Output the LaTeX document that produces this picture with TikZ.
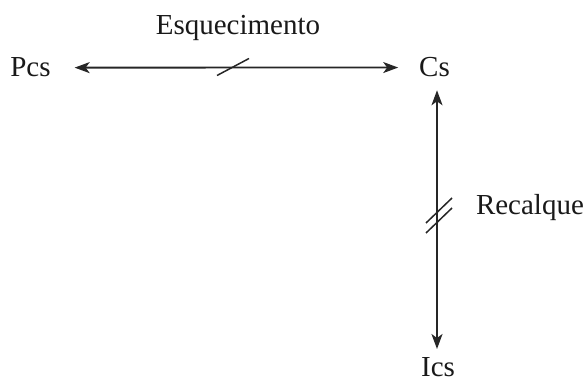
\documentclass[tikz,border=0pt]{standalone}
\usepackage{fontspec}
\setmainfont{Liberation Serif}
\usetikzlibrary{arrows.meta}
\begin{document}
\begin{tikzpicture}[x=1pt,y=1pt,
  lbl/.style={inner sep=0pt, outer sep=0pt, font=\fontsize{29}{35}\selectfont, text=black!90},
  conn/.style={line width=1.8pt, draw=black!85, {Stealth[length=15pt,width=11pt,inset=4pt]}-{Stealth[length=15pt,width=11pt,inset=4pt]}},
  strike/.style={line width=1.5pt, draw=black!85}]
\useasboundingbox (0,0) rectangle (585,383);
\node[lbl, anchor=base] (Pcs) at (30.5,306) {Pcs};
\node[lbl, anchor=base] (Cs) at (434.5,306) {Cs};
\node[lbl, anchor=base] (Ics) at (438,7) {Ics};
\node[lbl, anchor=base] (Esq) at (238,348) {Esquecimento};
\node[lbl, anchor=base west] (Rec) at (476,168) {Recalque};
\draw[conn, shorten <=24pt, shorten >=21pt] (Pcs.east) -- (Cs.west);
\draw[conn, shorten <=13pt, shorten >=8pt] ([xshift=2.5pt]Cs.south) -- ([xshift=2.5pt]Cs.south |- Ics.north);
\coordinate (s1) at (233,316);
\draw[strike] ([shift={(-16,-8.5)}]s1) -- ([shift={(16,8.5)}]s1);
\coordinate (s2) at (439,172.5);
\coordinate (s3) at (439,162.5);
\draw[strike] ([shift={(-13,-12.5)}]s2) -- ([shift={(13,12.5)}]s2);
\draw[strike] ([shift={(-13,-12.5)}]s3) -- ([shift={(13,12.5)}]s3);
\end{tikzpicture}
\end{document}
